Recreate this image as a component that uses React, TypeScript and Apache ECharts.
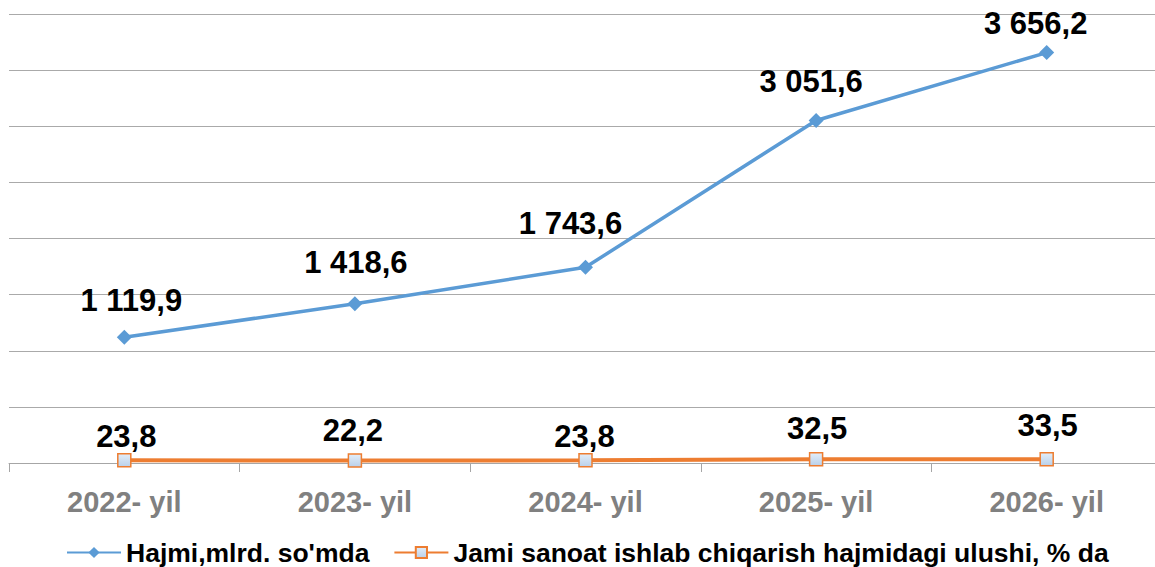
import React, { useEffect, useRef } from "react";
import * as echarts from "echarts";

const categories = ["2022- yil", "2023- yil", "2024- yil", "2025- yil", "2026- yil"];
const volumeName = "Hajmi,mlrd. so'mda";
const volumeValues = [1119.9, 1418.6, 1743.6, 3051.6, 3656.2];
const shareName = "Jami sanoat ishlab chiqarish hajmidagi ulushi, % da";
const shareValues = [23.8, 22.2, 23.8, 32.5, 33.5];

// label placement (style only): offset of each label's centre from its point
const volumeLabelOffsets = [[7, -37], [1, -41], [-15, -44], [-5, -39], [-11, -29]];
const shareLabelOffsets = [[2, -24], [-2, -30], [-1, -24], [1, -31], [1, -34]];

const fmt = (v: number) => {
  const [ip, dp] = v.toFixed(1).split(".");
  const withSpaces = ip.replace(/\B(?=(\d{3})+(?!\d))/g, " ");
  return withSpaces + "," + dp;
};

const FONT = "'Liberation Sans', Arial, Helvetica, sans-serif";

const labelBase = {
  show: true,
  position: "inside",
  formatter: (p: any) => fmt(p.value),
  fontFamily: FONT,
  fontWeight: "bold",
  fontSize: 31,
  color: "#000000",
};

export default function App() {
  const ref = useRef<HTMLDivElement>(null);
  useEffect(() => {
    if (!ref.current) return;
    document.body.style.overflow = "hidden";
    const chart = echarts.init(ref.current, undefined, { renderer: "svg" });
    chart.setOption({
      animation: false,
      backgroundColor: "#ffffff",
      grid: { left: 9, top: 14, width: 1153, height: 449, containLabel: false },
      legend: {
        left: 66,
        top: 539,
        padding: 0,
        itemWidth: 54,
        itemHeight: 14,
        itemGap: 24,
        textStyle: { fontFamily: FONT, fontWeight: "bold", fontSize: 26.5, color: "#000000" },
        data: [volumeName, shareName],
      },
      xAxis: {
        type: "category",
        data: categories,
        boundaryGap: true,
        axisLine: { show: true, lineStyle: { color: "#a6a6a6", width: 1 } },
        axisTick: { show: true, length: 9, lineStyle: { color: "#a6a6a6" } },
        axisLabel: {
          margin: 24,
          fontFamily: FONT,
          fontWeight: "bold",
          fontSize: 29,
          color: "#808080",
        },
      },
      yAxis: {
        type: "value",
        min: 0,
        max: 4000,
        interval: 500,
        axisLabel: { show: false },
        axisLine: { show: false },
        axisTick: { show: false },
        splitLine: { show: true, lineStyle: { color: "#aaaaaa", width: 1.2 } },
      },
      series: [
        {
          name: volumeName,
          type: "line",
          data: volumeValues.map((v, i) => ({ value: v, label: { offset: volumeLabelOffsets[i] } })),
          symbol: "diamond",
          symbolSize: 15,
          lineStyle: { color: "#5b9bd5", width: 3.5 },
          itemStyle: { color: "#5b9bd5" },
          label: labelBase,
          z: 3,
        },
        {
          name: shareName,
          type: "line",
          data: shareValues.map((v, i) => ({ value: v, label: { offset: shareLabelOffsets[i] } })),
          symbol: "rect",
          symbolSize: 13,
          lineStyle: { color: "#ed7d31", width: 4 },
          itemStyle: {
            color: new echarts.graphic.LinearGradient(0, 0, 0, 1, [
              { offset: 0, color: "#e3eef9" },
              { offset: 1, color: "#b9d0ea" },
            ]),
            borderColor: "#ed7d31",
            borderWidth: 1.5,
          },
          label: labelBase,
          z: 4,
        },
      ],
    });
    return () => chart.dispose();
  }, []);
  return (
    <div
      ref={ref}
      style={{ position: "fixed", left: 0, top: 0, width: 1165, height: 567, background: "#ffffff" }}
    />
  );
}
